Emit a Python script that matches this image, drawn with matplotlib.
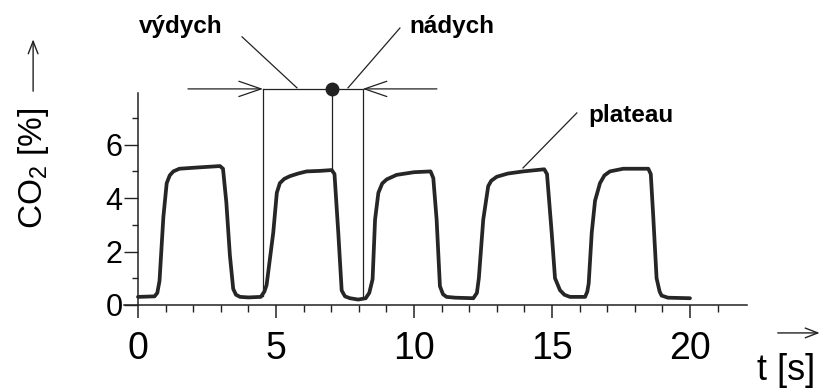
import matplotlib
matplotlib.use('Agg')
import matplotlib.pyplot as plt

plt.rcParams['font.family'] = ['Liberation Sans', 'DejaVu Sans']
plt.rcParams['mathtext.default'] = 'regular'

# capnogram trace: time [s] and CO2 [%]
time_s = [0, 0.6, 0.7, 0.78, 0.92, 1.04, 1.15, 1.28, 1.5, 2.2,
          2.97, 3.08, 3.2, 3.33, 3.45, 3.55, 3.7, 4.0, 4.45, 4.58,
          4.66, 4.9, 5.03, 5.14, 5.3, 5.5, 5.8, 6.11, 6.6, 7.02,
          7.12, 7.26, 7.38, 7.5, 7.68, 7.98, 8.25, 8.38, 8.5, 8.59,
          8.71, 8.85, 9.01, 9.37, 10.0, 10.6, 10.7, 10.82, 10.94, 11.05,
          11.18, 11.5, 12.15, 12.28, 12.35, 12.51, 12.69, 12.8, 13.0, 13.4,
          13.96, 14.72, 14.82, 14.99, 15.11, 15.29, 15.45, 15.65, 16.2, 16.28,
          16.33, 16.44, 16.56, 16.74, 16.9, 17.1, 17.58, 18.49, 18.58, 18.67,
          18.79, 18.9, 18.97, 19.2, 20.0]
co2 = [0.3, 0.32, 0.45, 0.9, 3.3, 4.56, 4.85, 5.0, 5.1, 5.15,
       5.2, 5.1, 3.85, 1.85, 0.6, 0.38, 0.3, 0.28, 0.3, 0.5,
       0.75, 2.7, 4.2, 4.56, 4.72, 4.82, 4.92, 5.0, 5.02, 5.05,
       4.9, 2.66, 0.54, 0.32, 0.25, 0.2, 0.25, 0.45, 0.96, 3.2,
       4.2, 4.55, 4.7, 4.87, 4.97, 5.0, 4.75, 3.2, 0.7, 0.4,
       0.3, 0.27, 0.25, 0.45, 1.0, 3.2, 4.45, 4.65, 4.8, 4.92,
       5.0, 5.08, 4.9, 2.7, 1.0, 0.55, 0.38, 0.3, 0.3, 0.5,
       0.8, 2.7, 3.9, 4.56, 4.85, 5.0, 5.1, 5.1, 4.9, 3.3,
       1.0, 0.5, 0.35, 0.27, 0.25]

x_major = [0, 5, 10, 15, 20]
x_minor = [1, 2, 3, 4, 6, 7, 8, 9, 11, 12, 13, 14, 16, 17, 18, 19, 21]
y_major = [0, 2, 4, 6]
y_minor = [1, 3, 5, 7]

# breath markers: exhale start, end of exhale (dot), inhale end
exhale_t = 4.53
dot_t, dot_co2 = 7.03, 5.05
inhale_t = 8.14
marker_level = 8.09
marker_span = (1.81, 10.83)
exhale_bottom = 0.35
inhale_bottom = 0.25

# leader lines (label point -> target point)
lead_vydych = ([3.77, 5.76], [10.04, 8.13])
lead_nadych = ([9.49, 7.61], [10.37, 8.13])
lead_plateau = ([15.9, 13.95], [7.19, 5.13])

fig = plt.figure(figsize=(8.23, 3.89), dpi=100)
ax = fig.add_axes([0, 0, 1, 1])
ax.set_xlim(-5.0, 24.82)
ax.set_ylim(-3.15, 11.42)

ink = '#222222'
ax.plot(time_s, co2, color='#262626', lw=2.7, solid_joinstyle='round',
        solid_capstyle='round', zorder=3)

# axes
for side in ['top', 'right']:
    ax.spines[side].set_visible(False)
ax.spines['left'].set_position(('data', 0))
ax.spines['bottom'].set_position(('data', 0))
ax.spines['left'].set_bounds(0, 7.94)
ax.spines['bottom'].set_bounds(-0.5, 22.07)
for side in ['left', 'bottom']:
    ax.spines[side].set_color(ink)
    ax.spines[side].set_linewidth(1.1)

ax.set_xticks(x_major)
ax.set_xticks(x_minor, minor=True)
ax.set_yticks(y_major)
ax.set_yticks(y_minor, minor=True)
ax.tick_params(axis='x', which='major', direction='out', length=9, width=1.1,
               colors=ink, labelcolor='black', labelsize=27, pad=10)
ax.tick_params(axis='x', which='minor', direction='out', length=5, width=1.0,
               colors=ink)
ax.tick_params(axis='y', which='major', direction='out', length=10, width=1.0,
               colors=ink, labelcolor='black', labelsize=22, pad=1)
ax.tick_params(axis='y', which='minor', direction='out', length=4, width=1.0,
               colors=ink)

# axis titles with arrows
ax.text(-3.8, 5.1, 'CO$_2$ [%]', rotation=90, ha='center', va='center',
        fontsize=24)
ax.annotate('', xy=(-3.8, 10.05), xytext=(-3.8, 7.9),
            arrowprops=dict(arrowstyle='->,head_length=0.9,head_width=0.35',
                            color=ink, lw=1.0))
ax.text(23.5, -2.45, 't [s]', ha='center', va='center', fontsize=26)
ax.annotate('', xy=(24.8, -1.05), xytext=(23.08, -1.05),
            arrowprops=dict(arrowstyle='->,head_length=0.9,head_width=0.35',
                            color=ink, lw=1.0))

# breath phase markers
thin = dict(color=ink, lw=0.9)
ax.plot([exhale_t, inhale_t], [marker_level, marker_level], **thin)
ax.annotate('', xy=(exhale_t, marker_level), xytext=(marker_span[0], marker_level),
            arrowprops=dict(arrowstyle='->,head_length=1.6,head_width=0.55',
                            color=ink, lw=0.9, shrinkA=0, shrinkB=0))
ax.annotate('', xy=(inhale_t, marker_level), xytext=(marker_span[1], marker_level),
            arrowprops=dict(arrowstyle='->,head_length=1.6,head_width=0.55',
                            color=ink, lw=0.9, shrinkA=0, shrinkB=0))
ax.plot([exhale_t, exhale_t], [marker_level, exhale_bottom], **thin)
ax.plot([inhale_t, inhale_t], [marker_level, inhale_bottom], **thin)
ax.plot([dot_t, dot_t], [marker_level, dot_co2], **thin)
ax.plot([dot_t], [marker_level], 'o', color=ink, ms=9, zorder=4)

ax.plot(*lead_vydych, **thin)
ax.plot(*lead_nadych, **thin)
ax.plot(*lead_plateau, **thin)

ax.text(1.55, 10.41, 'výdych', ha='center', va='center', fontsize=17.5,
        fontweight='bold')
ax.text(11.36, 10.41, 'nádych', ha='center', va='center', fontsize=17.5,
        fontweight='bold')
ax.text(17.85, 7.1, 'plateau', ha='center', va='center', fontsize=17.5,
        fontweight='bold')

fig.savefig('out.png', dpi=100)
